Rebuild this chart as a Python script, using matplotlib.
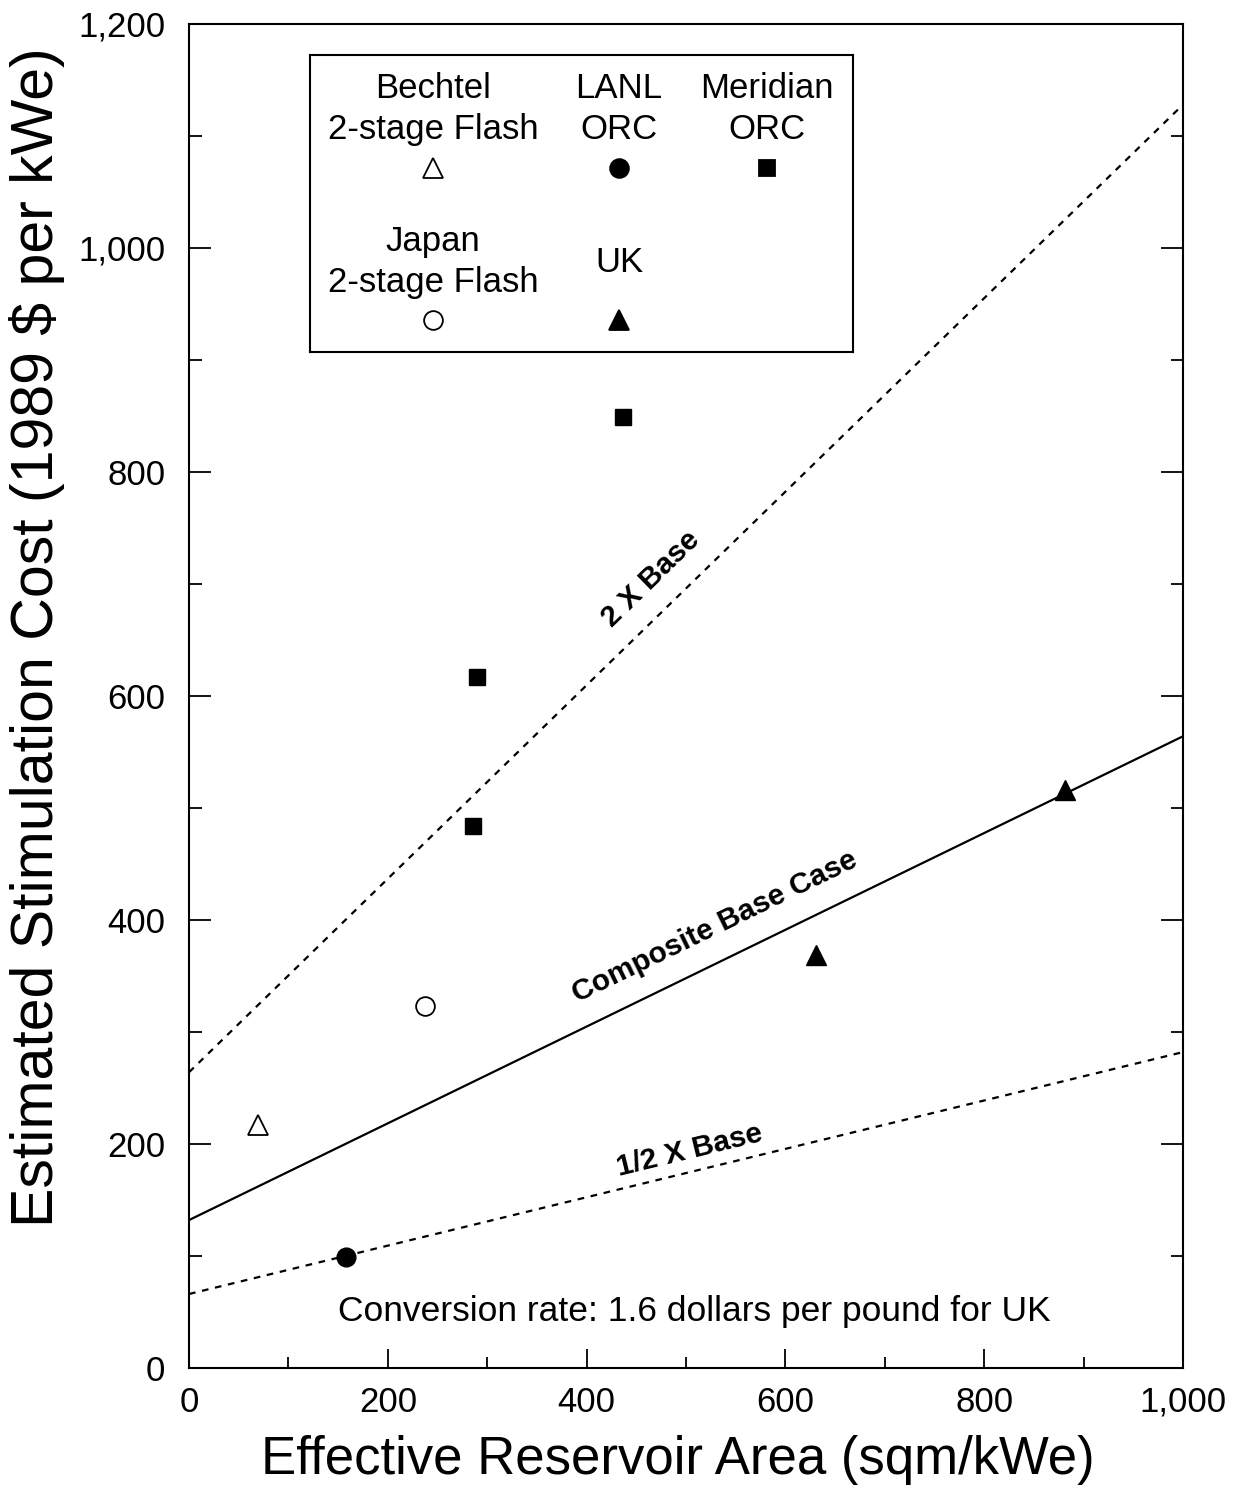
import numpy as np
import matplotlib
matplotlib.use("Agg")
import matplotlib.pyplot as plt
from matplotlib.ticker import MultipleLocator, FuncFormatter

plt.rcParams['font.family'] = ['Liberation Sans', 'DejaVu Sans']

# Cost estimates by study (area in sqm/kWe, cost in 1989 $/kWe)
bechtel_area = [69]
bechtel_cost = [217]
lanl_area = [158]
lanl_cost = [99]
japan_area = [237]
japan_cost = [323]
meridian_area = [290, 286, 437]
meridian_cost = [617, 484, 849]
uk_area = [631, 881]
uk_cost = [369, 516]

# Composite base-case cost line and its multiples
base_area = [0, 1000]
base_cost = [132, 564]
multipliers = [2.0, 1.0, 0.5]
line_labels = ["2 X Base", "Composite Base Case", "1/2 X Base"]
label_area = [475, 535, 507]
label_offset = [17, 16, 5]

x_ticks = [0, 200, 400, 600, 800, 1000]
y_ticks = [0, 200, 400, 600, 800, 1000, 1200]

fig = plt.figure(figsize=(12.33, 14.95), dpi=100)
ax = fig.add_axes([0.1533, 0.085, 0.8062, 0.899])
ax.set_xlim(0, 1000)
ax.set_ylim(0, 1200)

lw = 1.6
for m, lbl, la, off in zip(multipliers, line_labels, label_area, label_offset):
    xs = np.array(base_area, dtype=float)
    ys = np.array(base_cost, dtype=float) * m
    style = '-' if m == 1.0 else (0, (3, 3))
    ax.plot(xs, ys, color='black', lw=lw, linestyle=style, zorder=2)
    # label placed just above the line, rotated along it
    slope = (ys[1] - ys[0]) / (xs[1] - xs[0])
    ly = ys[0] + slope * la
    p0 = ax.transData.transform((xs[0], ys[0]))
    p1 = ax.transData.transform((xs[1], ys[1]))
    ang = np.degrees(np.arctan2(p1[1] - p0[1], p1[0] - p0[0]))
    ax.annotate(lbl, xy=(la, ly), xytext=(0, off), textcoords='offset points',
                rotation=ang, rotation_mode='anchor', ha='center', va='bottom',
                fontsize=21.5, fontweight='bold')

ms_kw = dict(linestyle='none', color='black', zorder=3)
ax.plot(bechtel_area, bechtel_cost, marker='^', ms=15, mfc='white', mec='black', mew=1.3, **ms_kw)
ax.plot(lanl_area, lanl_cost, marker='o', ms=13.5, mfc='black', **ms_kw)
ax.plot(japan_area, japan_cost, marker='o', ms=13.5, mfc='white', mec='black', mew=1.3, **ms_kw)
ax.plot(meridian_area, meridian_cost, marker='s', ms=12, mfc='black', **ms_kw)
ax.plot(uk_area, uk_cost, marker='^', ms=15, mfc='black', **ms_kw)

ax.text(0.508, 0.042, "Conversion rate: 1.6 dollars per pound for UK",
        transform=ax.transAxes, ha='center', va='center', fontsize=25.5)

# axes styling
for s in ax.spines.values():
    s.set_linewidth(1.5)
ax.set_xticks(x_ticks)
ax.set_yticks(y_ticks)
ax.xaxis.set_minor_locator(MultipleLocator(100))
ax.yaxis.set_minor_locator(MultipleLocator(100))
fmt = FuncFormatter(lambda v, p: f"{int(v):,}")
ax.xaxis.set_major_formatter(fmt)
ax.yaxis.set_major_formatter(fmt)
ax.tick_params(which='both', direction='in', top=False, right=True, width=1.3, labelsize=25)
ax.tick_params(axis='y', which='major', length=16, pad=17)
ax.tick_params(axis='y', which='minor', length=9)
ax.tick_params(axis='x', which='major', length=14, pad=13)
ax.tick_params(axis='x', which='minor', length=8)

ax.set_xlabel("Effective Reservoir Area (sqm/kWe)", fontsize=38)
ax.set_ylabel("Estimated Stimulation Cost (1989 $ per kWe)", fontsize=42.5)
ax.xaxis.set_label_coords(0.492, -0.050)
ax.yaxis.set_label_coords(-0.125, 0.544)

# key box
key = fig.add_axes([0.2514, 0.7645, 0.4404, 0.1987])
key.set_xlim(0, 1)
key.set_ylim(0, 1)
key.set_xticks([])
key.set_yticks([])
for s in key.spines.values():
    s.set_linewidth(1.5)

key_names = ["Bechtel\n2-stage Flash", "LANL\nORC", "Meridian\nORC",
             "Japan\n2-stage Flash", "UK"]
key_markers = ['^', 'o', 's', 'o', '^']
key_fill = ['white', 'black', 'black', 'white', 'black']
key_sizes = [15, 13.5, 12, 13.5, 15]
key_col = [0.2265, 0.569, 0.8416, 0.2265, 0.569]
key_text_y = [0.818, 0.818, 0.818, 0.303, 0.303]
key_mark_y = [0.62, 0.62, 0.62, 0.108, 0.108]

for name, mk, fc, sz, cx, ty, my in zip(key_names, key_markers, key_fill, key_sizes,
                                         key_col, key_text_y, key_mark_y):
    key.text(cx, ty, name, ha='center', va='center', fontsize=25, linespacing=1.32)
    key.plot([cx], [my], marker=mk, ms=sz, mfc=fc, mec='black', mew=1.3,
             linestyle='none')

fig.savefig("out.png", dpi=100)
